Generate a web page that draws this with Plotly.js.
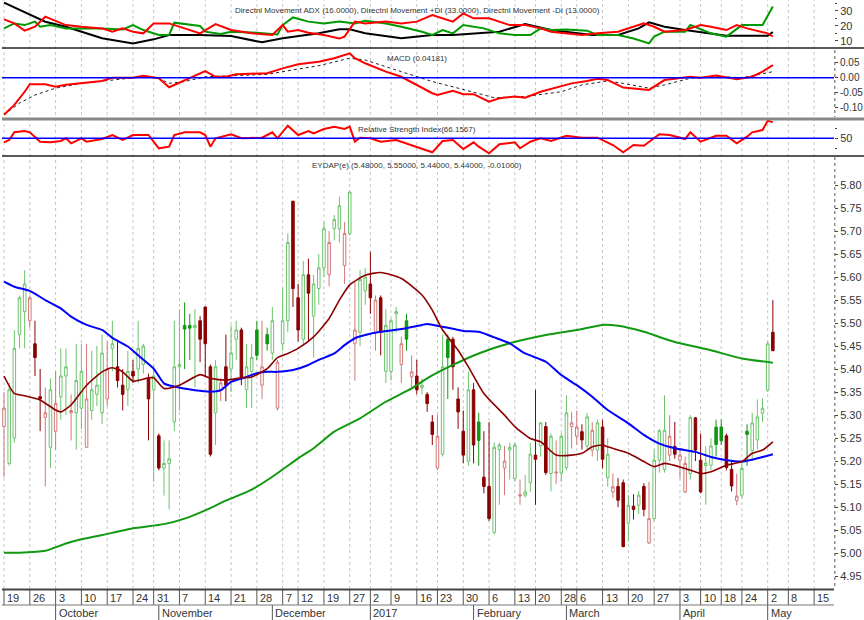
<!DOCTYPE html>
<html><head><meta charset="utf-8">
<script src="https://cdn.plot.ly/plotly-3.0.1.min.js"></script>
<style>html,body{margin:0;padding:0;background:#fff}#chart{width:864px;height:620px}</style>
</head><body><div id="chart"></div>
<script>
// ---------- DATA (trading-day index on x) ----------
const openP = [5.275,5.195,5.25,5.475,5.525,5.505,5.455,5.34,5.295,5.23,
5.265,5.34,5.385,5.305,5.305,5.315,5.23,5.31,5.345,5.305,
5.335,5.445,5.405,5.365,5.355,5.395,5.40,5.41,5.38,5.355,
5.255,5.185,5.195,5.285,5.405,5.495,5.495,5.49,5.505,5.535,
5.405,5.305,5.355,5.405,5.40,5.465,5.485,5.355,5.395,5.485,
5.365,5.475,5.435,5.315,5.455,5.505,5.765,5.555,5.465,5.605,
5.515,5.575,5.62,5.605,5.705,5.705,5.625,5.695,5.455,5.48,
5.57,5.585,5.48,5.555,5.395,5.395,5.52,5.41,5.505,5.383,
5.385,5.36,5.345,5.285,5.185,5.215,5.465,5.465,5.335,5.265,
5.20,5.355,5.285,5.165,5.145,5.045,5.225,5.185,5.224,5.162,
5.124,5.126,5.153,5.213,5.233,5.275,5.173,5.174,5.174,5.186,
5.275,5.254,5.264,5.233,5.224,5.224,5.274,5.164,5.133,5.145,
5.153,5.065,5.102,5.104,5.145,5.022,5.075,5.202,5.182,5.213,
5.232,5.202,5.133,5.173,5.294,5.202,5.19,5.191,5.274,5.274,
5.255,5.182,5.114,5.126,5.265,5.223,5.246,5.304,5.354,5.48];
const highP = [5.35,5.37,5.485,5.56,5.615,5.56,5.505,5.40,5.36,5.38,
5.395,5.445,5.445,5.345,5.455,5.455,5.455,5.44,5.45,5.475,
5.46,5.505,5.46,5.40,5.44,5.42,5.505,5.455,5.39,5.41,
5.26,5.245,5.245,5.505,5.53,5.545,5.52,5.53,5.515,5.535,
5.41,5.42,5.38,5.475,5.495,5.505,5.49,5.455,5.455,5.505,
5.505,5.49,5.535,5.42,5.575,5.695,5.765,5.585,5.635,5.64,
5.605,5.65,5.72,5.70,5.735,5.775,5.72,5.785,5.59,5.615,
5.62,5.655,5.56,5.56,5.53,5.51,5.535,5.47,5.52,5.43,
5.42,5.38,5.35,5.30,5.30,5.475,5.475,5.47,5.36,5.31,
5.395,5.37,5.305,5.265,5.285,5.24,5.24,5.233,5.24,5.24,
5.16,5.17,5.24,5.355,5.285,5.285,5.26,5.245,5.26,5.343,
5.307,5.31,5.28,5.305,5.285,5.29,5.29,5.25,5.173,5.163,
5.16,5.126,5.128,5.135,5.152,5.155,5.225,5.27,5.343,5.30,
5.285,5.225,5.21,5.30,5.296,5.26,5.232,5.25,5.29,5.29,
5.26,5.20,5.173,5.20,5.28,5.305,5.334,5.337,5.46,5.55];
const lowP = [5.165,5.19,5.24,5.445,5.445,5.49,5.385,5.265,5.145,5.185,
5.225,5.29,5.30,5.245,5.225,5.27,5.23,5.29,5.32,5.28,
5.32,5.395,5.36,5.31,5.32,5.37,5.37,5.39,5.245,5.155,
5.18,5.125,5.095,5.265,5.31,5.40,5.42,5.36,5.415,5.385,
5.21,5.235,5.33,5.33,5.35,5.42,5.365,5.315,5.315,5.42,
5.335,5.44,5.42,5.31,5.44,5.48,5.535,5.46,5.45,5.46,
5.425,5.54,5.60,5.58,5.68,5.675,5.585,5.69,5.375,5.45,
5.54,5.52,5.44,5.43,5.37,5.375,5.48,5.37,5.44,5.36,
5.345,5.345,5.307,5.235,5.18,5.21,5.335,5.355,5.27,5.195,
5.19,5.195,5.19,5.13,5.07,5.04,5.105,5.126,5.16,5.155,
5.105,5.12,5.133,5.105,5.21,5.17,5.134,5.15,5.155,5.18,
5.227,5.235,5.225,5.225,5.21,5.20,5.184,5.145,5.12,5.10,
5.013,5.025,5.073,5.085,5.08,5.02,5.07,5.175,5.175,5.20,
5.205,5.162,5.13,5.16,5.20,5.13,5.105,5.18,5.21,5.235,
5.18,5.134,5.104,5.12,5.19,5.20,5.225,5.285,5.35,5.44];
const closeP = [5.315,5.355,5.445,5.555,5.585,5.555,5.425,5.335,5.305,5.355,
5.325,5.385,5.405,5.31,5.375,5.395,5.335,5.355,5.365,5.435,
5.40,5.455,5.375,5.345,5.395,5.385,5.445,5.45,5.335,5.385,
5.185,5.195,5.205,5.405,5.41,5.487,5.489,5.495,5.465,5.455,
5.215,5.405,5.37,5.365,5.435,5.485,5.38,5.405,5.425,5.43,
5.405,5.455,5.505,5.415,5.505,5.675,5.575,5.485,5.605,5.565,
5.585,5.62,5.705,5.675,5.725,5.755,5.695,5.785,5.485,5.595,
5.60,5.555,5.55,5.48,5.495,5.505,5.525,5.455,5.465,5.394,
5.355,5.365,5.325,5.258,5.254,5.405,5.425,5.405,5.307,5.213,
5.355,5.235,5.245,5.145,5.075,5.23,5.235,5.20,5.23,5.235,
5.127,5.133,5.215,5.204,5.283,5.175,5.254,5.176,5.254,5.305,
5.283,5.274,5.246,5.296,5.267,5.283,5.204,5.215,5.144,5.115,
5.014,5.104,5.095,5.126,5.095,5.075,5.202,5.266,5.267,5.254,
5.215,5.213,5.195,5.295,5.224,5.133,5.196,5.233,5.236,5.244,
5.186,5.146,5.124,5.184,5.258,5.283,5.296,5.315,5.455,5.44];

const maShortX = [0,2,4,7,10,11,13,16,19,21,23,25,28,29,31,34,38,40,43,46,48,51,53,55,57,60,63,65,67,70,73,77,81,83,85,88,90,93,97,99,102,104,107,110,112,114,116,117,121,124,126,128,132,135,137,140,143,145,147,149];
const maShortY = [5.385,5.347,5.342,5.333,5.311,5.307,5.322,5.365,5.394,5.403,5.394,5.374,5.381,5.381,5.358,5.365,5.388,5.380,5.376,5.381,5.383,5.401,5.425,5.434,5.445,5.470,5.510,5.550,5.583,5.604,5.610,5.597,5.561,5.528,5.485,5.441,5.405,5.347,5.300,5.275,5.249,5.242,5.213,5.213,5.217,5.231,5.235,5.231,5.217,5.199,5.188,5.195,5.184,5.173,5.177,5.191,5.199,5.217,5.224,5.242];
const maMidX = [0,2,5,8,11,13,16,19,21,24,26,29,31,33,37,40,42,44,47,49,51,53,56,59,61,64,66,68,70,73,77,81,82,85,89,92,95,98,101,105,108,111,114,117,121,124,127,130,134,137,140,143,146,149];
const maMidY = [5.590,5.579,5.570,5.550,5.532,5.514,5.496,5.485,5.468,5.449,5.430,5.401,5.369,5.362,5.354,5.351,5.354,5.372,5.383,5.391,5.394,5.394,5.398,5.409,5.420,5.434,5.452,5.467,5.474,5.481,5.487,5.496,5.498,5.492,5.483,5.481,5.469,5.456,5.434,5.416,5.387,5.365,5.340,5.311,5.282,5.257,5.238,5.228,5.220,5.209,5.202,5.199,5.206,5.215];
const maLongX = [0,3,8,12,15,21,25,31,35,39,43,48,52,57,60,64,69,74,79,82,87,92,98,105,111,116,119,124,130,137,143,149];
const maLongY = [5.001,5.001,5.005,5.021,5.030,5.044,5.054,5.063,5.075,5.093,5.114,5.138,5.166,5.206,5.228,5.264,5.293,5.329,5.358,5.380,5.409,5.434,5.456,5.474,5.485,5.496,5.494,5.481,5.459,5.441,5.423,5.414];

// Directional movement
const adxX = [0,8,12,19,25,29,32,38,44,50,54,61,65,67,70,77,83,87,96,101,106,114,119,123,125,128,132,140,148,149];
const adxY = [35.5,22.8,19.5,11.8,8.4,11.1,14,14,13.3,9.1,11.8,15.1,17.8,17.8,15.1,11.8,14,14,16.2,21.3,17.3,14,14,18.4,22.4,19.5,17.3,13.5,13.5,16.0];
const pdiX = [0,2,4,6,7,9,12,15,19,23,25,27,30,32,33,38,39,42,44,48,51,53,54,56,59,62,65,68,70,74,77,81,83,85,87,89,93,96,99,102,104,106,109,113,115,119,122,125,126,128,132,133,137,140,143,147,149];
const pdiY = [18.4,21.7,20.6,22.9,19.5,20.6,18.4,18.4,18.4,17.7,20.6,17.3,14,14,22.2,20,16.2,14.6,16.2,15.7,15.1,14.4,20.6,25.7,22.9,21.7,22.9,21.7,23.5,21.7,19.5,16.2,14,17.3,15.1,20.6,18.4,15.1,14,14,18.4,17.3,17.7,16.9,14,14,11.7,8.4,12.9,16.2,16.2,20.6,15.1,12.9,20.6,20.6,33];
const mdiX = [0,2,4,6,8,12,15,19,21,23,25,27,29,32,35,38,41,44,48,52,54,55,57,59,62,65,66,68,70,74,77,80,83,85,87,89,91,94,96,98,101,104,106,109,112,115,119,120,124,126,128,132,135,137,140,142,144,148,149];
const mdiY = [24.4,21.7,16.9,19.5,26.2,20.6,19.5,18.4,16.2,18.4,16.2,15.1,21.7,21.7,18.4,15.1,21.3,17.3,15.1,14,20.6,16.2,17.3,15.5,14,11.7,12.9,22.9,21.7,22.9,21.7,22.9,27.3,25.1,22.9,28.4,25.1,25.1,22.9,20.6,20.6,18.4,16.2,15.1,14,15.1,16.2,17.3,21.7,19.5,16.2,17.3,20.6,19.5,17.3,20.6,18.4,15.1,13];

// MACD
const macdX = [0,2,4,5,8,10,12,15,19,21,25,27,30,32,35,38,39,41,43,45,48,51,54,57,61,64,67,68,70,74,77,80,83,84,87,89,91,94,96,99,101,104,107,110,113,115,117,120,123,125,128,131,133,135,138,141,142,145,147,149];
const macdY = [-0.124,-0.091,-0.047,-0.022,-0.022,-0.030,-0.024,-0.019,-0.011,0.0,0.0,0.006,-0.002,-0.032,-0.008,0.015,0.022,0.003,0.003,0.011,0.012,0.015,0.031,0.045,0.053,0.065,0.081,0.065,0.048,0.020,0.003,-0.024,-0.052,-0.058,-0.044,-0.055,-0.055,-0.080,-0.069,-0.063,-0.067,-0.047,-0.033,-0.019,-0.011,-0.004,-0.008,-0.033,-0.038,-0.041,-0.008,0.0,0.003,0.0,0.007,-0.002,-0.005,0.003,0.020,0.042];
const sigX = [0,3,6,10,15,21,27,30,32,35,39,45,51,56,61,67,70,77,83,88,95,101,108,112,117,120,125,128,133,139,143,149];
const sigY = [-0.124,-0.085,-0.058,-0.035,-0.019,-0.008,0.003,-0.002,-0.019,-0.013,0.003,0.007,0.011,0.026,0.040,0.065,0.059,0.020,-0.013,-0.035,-0.067,-0.063,-0.047,-0.024,-0.011,-0.019,-0.035,-0.024,-0.002,0.003,0.0,0.020];

// RSI
const rsiX = [0,1,2,4,5,7,9,11,12,13,15,16,19,21,23,25,28,29,30,32,33,35,38,39,40,41,44,46,50,52,53,55,57,59,60,62,64,66,67,68,69,71,73,76,79,81,83,85,87,89,91,92,94,96,99,100,102,104,106,109,112,115,118,120,122,124,127,129,132,133,135,138,140,142,144,145,147,148,149];
const rsiY = [46,48.3,56,57.3,56,46.6,46,47.3,50,45,50,46.6,49.3,53.3,48.3,53.3,53.3,46.6,40,41.6,53.3,56,56,53.3,41.6,50,54,50,50.6,56,50,62.6,53.3,57.3,55,59.3,61.6,59.3,61.6,46.6,50.6,50,46.6,48.3,43.3,40,36,47.3,48.3,39.3,46,41.6,35,44,46,40,46.6,50,47.3,52.6,50.6,50.6,43.3,36,43.3,42.6,54,53.3,49.3,56,46.6,52.6,52.6,45,51.6,56,58.3,67.5,66.16];

// axis labels
const dayTickIdx = [0,5,10,15,20,25,29,34,39,44,49,54,57,62,67,71,75,80,84,89,94,99,103,108,111,116,121,126,131,135,139,143,148,152,157];
const dayTickLbl = ['19','26','3','10','17','24','31','7','14','21','28','7','12','19','27','2','9','16','23','30','6','13','20','28','6','13','20','27','3','10','18','24','2','8','15'];
const monthIdx = [10,30,52,71,91,109,131,148];
const monthLbl = ['October','November','December','2017','February','March','April','May'];
const priceTicks = [4.95,5.00,5.05,5.10,5.15,5.20,5.25,5.30,5.35,5.40,5.45,5.50,5.55,5.60,5.65,5.70,5.75,5.80];

const titles = {
  dmi: 'Directnl Movement ADX (16.0000), Directnl Movement +DI (33.0000), Directnl Movement -DI (13.0000)',
  macd: 'MACD (0.04181)',
  rsi: 'Relative Strength Index(66.1567)',
  price: 'EYDAP(e) (5.48000, 5.55000, 5.44000, 5.44000, -0.01000)'
};

// ---------- BUILD ----------
const FONT = 'Liberation Sans Narrow, Arial Narrow, Liberation Sans, Arial, sans-serif';
const gIdx = [], rIdx = [];
closeP.forEach((c, i) => { (i > 0 && c > closeP[i-1] ? gIdx : rIdx).push(i); });
const pick = (a, ids) => ids.map(i => a[i]);
function candle(ids, upLine, upFill, dnLine, dnFill){
  return {type:'candlestick', x: ids, open: pick(openP, ids), high: pick(highP, ids),
    low: pick(lowP, ids), close: pick(closeP, ids), xaxis:'x', yaxis:'y4',
    increasing:{line:{color:upLine, width:1}, fillcolor:upFill},
    decreasing:{line:{color:dnLine, width:1}, fillcolor:dnFill},
    whiskerwidth:0, hoverinfo:'skip', showlegend:false};
}
const line = (x, y, ya, color, width, dash, shape) => ({type:'scatter', mode:'lines', x, y, yaxis:ya,
  line:{color, width, dash: dash || 'solid', shape: shape || 'linear', smoothing: 0.6}, hoverinfo:'skip', showlegend:false});

const traces = [
  line(adxX, adxY, 'y', '#000000', 2),
  line(pdiX, pdiY, 'y', '#009a00', 2),
  line(mdiX, mdiY, 'y', '#ff0000', 2),
  line(sigX, sigY, 'y2', '#222222', 1, 'dot'),
  line(macdX, macdY, 'y2', '#ff0000', 2),
  line(rsiX, rsiY, 'y3', '#ff0000', 2),
  line(maLongX, maLongY, 'y4', '#119911', 2, null, 'spline'),
  line(maMidX, maMidY, 'y4', '#0000ff', 2, null, 'spline'),
  line(maShortX, maShortY, 'y4', '#8b0000', 1.6, null, 'spline'),
  candle(gIdx, '#6cc46c', '#ffffff', '#129612', '#129612'),
  candle(rIdx, '#d27878', '#ffffff', '#8b0000', '#8b0000')
];

// paper y helper (plot area height 589, top margin 0)
const py = px => 1 - px / 589;

const shapes = [];
dayTickIdx.forEach(v => {
  shapes.push({type:'line', xref:'x', yref:'paper', x0:v, x1:v, y0:0, y1:1, layer:'below',
    line:{color:'#c4c4c4', width:1, dash:'3px,3px'}});
  shapes.push({type:'line', xref:'x', yref:'paper', x0:v, x1:v, y0:py(589), y1:py(605),
    line:{color:'#555', width:1}});
});
monthIdx.forEach(v => {
  shapes.push({type:'line', xref:'x', yref:'paper', x0:v, x1:v, y0:py(605), y1:py(620),
    line:{color:'#555', width:1}});
});
// axis rows
shapes.push({type:'line', xref:'paper', yref:'paper', x0:0, x1:1, y0:py(589.5), y1:py(589.5), line:{color:'#444', width:2}});
shapes.push({type:'line', xref:'paper', yref:'paper', x0:0, x1:1, y0:py(605), y1:py(605), line:{color:'#777', width:1}});
// panel separators
shapes.push({type:'line', xref:'paper', yref:'paper', x0:0, x1:1.036, y0:py(48), y1:py(48), line:{color:'#222', width:1.5}});
shapes.push({type:'line', xref:'paper', yref:'paper', x0:0, x1:1.036, y0:py(119), y1:py(119), line:{color:'#888', width:3}});
shapes.push({type:'line', xref:'paper', yref:'paper', x0:0, x1:1.036, y0:py(156), y1:py(156), line:{color:'#222', width:1.5}});
// reference lines
shapes.push({type:'line', xref:'paper', yref:'y2', x0:0, x1:1, y0:0, y1:0, line:{color:'#0000ff', width:1.5}});
shapes.push({type:'line', xref:'paper', yref:'y3', x0:0, x1:1, y0:50, y1:50, line:{color:'#0000ff', width:1.5}});
// dotted right axis lines
shapes.push({type:'line', xref:'paper', yref:'paper', x0:1.001, x1:1.001, y0:py(157), y1:py(589), line:{color:'#555', width:1, dash:'dot'}});
shapes.push({type:'line', xref:'paper', yref:'paper', x0:1.001, x1:1.001, y0:py(50), y1:py(117), line:{color:'#555', width:1, dash:'dot'}});

const annotations = [];
const ttl = (text, ypx) => annotations.push({text, xref:'paper', yref:'paper', x:0.499, y:py(ypx),
  xanchor:'center', yanchor:'middle', showarrow:false, font:{family:FONT, size:8, color:'#333'}});
ttl(titles.dmi, 11);
ttl(titles.macd, 58);
ttl(titles.rsi, 130);
ttl(titles.price, 165);
dayTickIdx.forEach((v, k) => annotations.push({text: dayTickLbl[k], xref:'x', yref:'paper', x:v, y:py(598),
  xanchor:'left', yanchor:'middle', xshift:1, showarrow:false, font:{family:FONT, size:11, color:'#333'}}));
monthIdx.forEach((v, k) => annotations.push({text: monthLbl[k], xref:'x', yref:'paper', x:v, y:py(612.5),
  xanchor:'left', yanchor:'middle', xshift:1, showarrow:false, font:{family:FONT, size:11, color:'#333'}}));

const yBase = {side:'right', showgrid:false, zeroline:false, showline:false, ticks:'outside', ticklen:3,
  tickcolor:'#444', tickfont:{family:FONT, size:11, color:'#333'}, fixedrange:true, anchor:'x'};

const layout = {
  width:864, height:620, margin:{l:2, r:30, t:0, b:31, pad:0},
  paper_bgcolor:'#ffffff', plot_bgcolor:'#ffffff', showlegend:false,
  font:{family:FONT, size:10, color:'#333'},
  boxgap:0.3,
  xaxis:{range:[-0.39,160.85], showgrid:false, zeroline:false, showticklabels:false, ticks:'',
    anchor:'y4', rangeslider:{visible:false}, fixedrange:true},
  yaxis: Object.assign({}, yBase, {domain:[py(47),1], range:[6,37.3], tickvals:[10,20,30],
    minor:{tickvals:[15,25,35], ticks:'outside', ticklen:2, tickcolor:'#444'}}),
  yaxis2: Object.assign({}, yBase, {domain:[py(117),py(49)], range:[-0.1313,0.0957],
    tickvals:[0.05,0,-0.05,-0.10], ticktext:['0.05','0.00','-0.05','-0.10'],
    tickfont:{family:FONT, size:10, color:'#333'}}),
  yaxis3: Object.assign({}, yBase, {domain:[py(155),py(120)], range:[33.3,68.3], tickvals:[50],
    minor:{tickvals:[40,60], ticks:'outside', ticklen:2, tickcolor:'#444'}}),
  yaxis4: Object.assign({}, yBase, {domain:[0,py(157)], range:[4.922,5.861], tickvals:priceTicks,
    ticktext: priceTicks.map(v => v.toFixed(2))}),
  shapes, annotations
};

Plotly.newPlot('chart', traces, layout, {staticPlot:true, displayModeBar:false});
</script>
</body></html>
